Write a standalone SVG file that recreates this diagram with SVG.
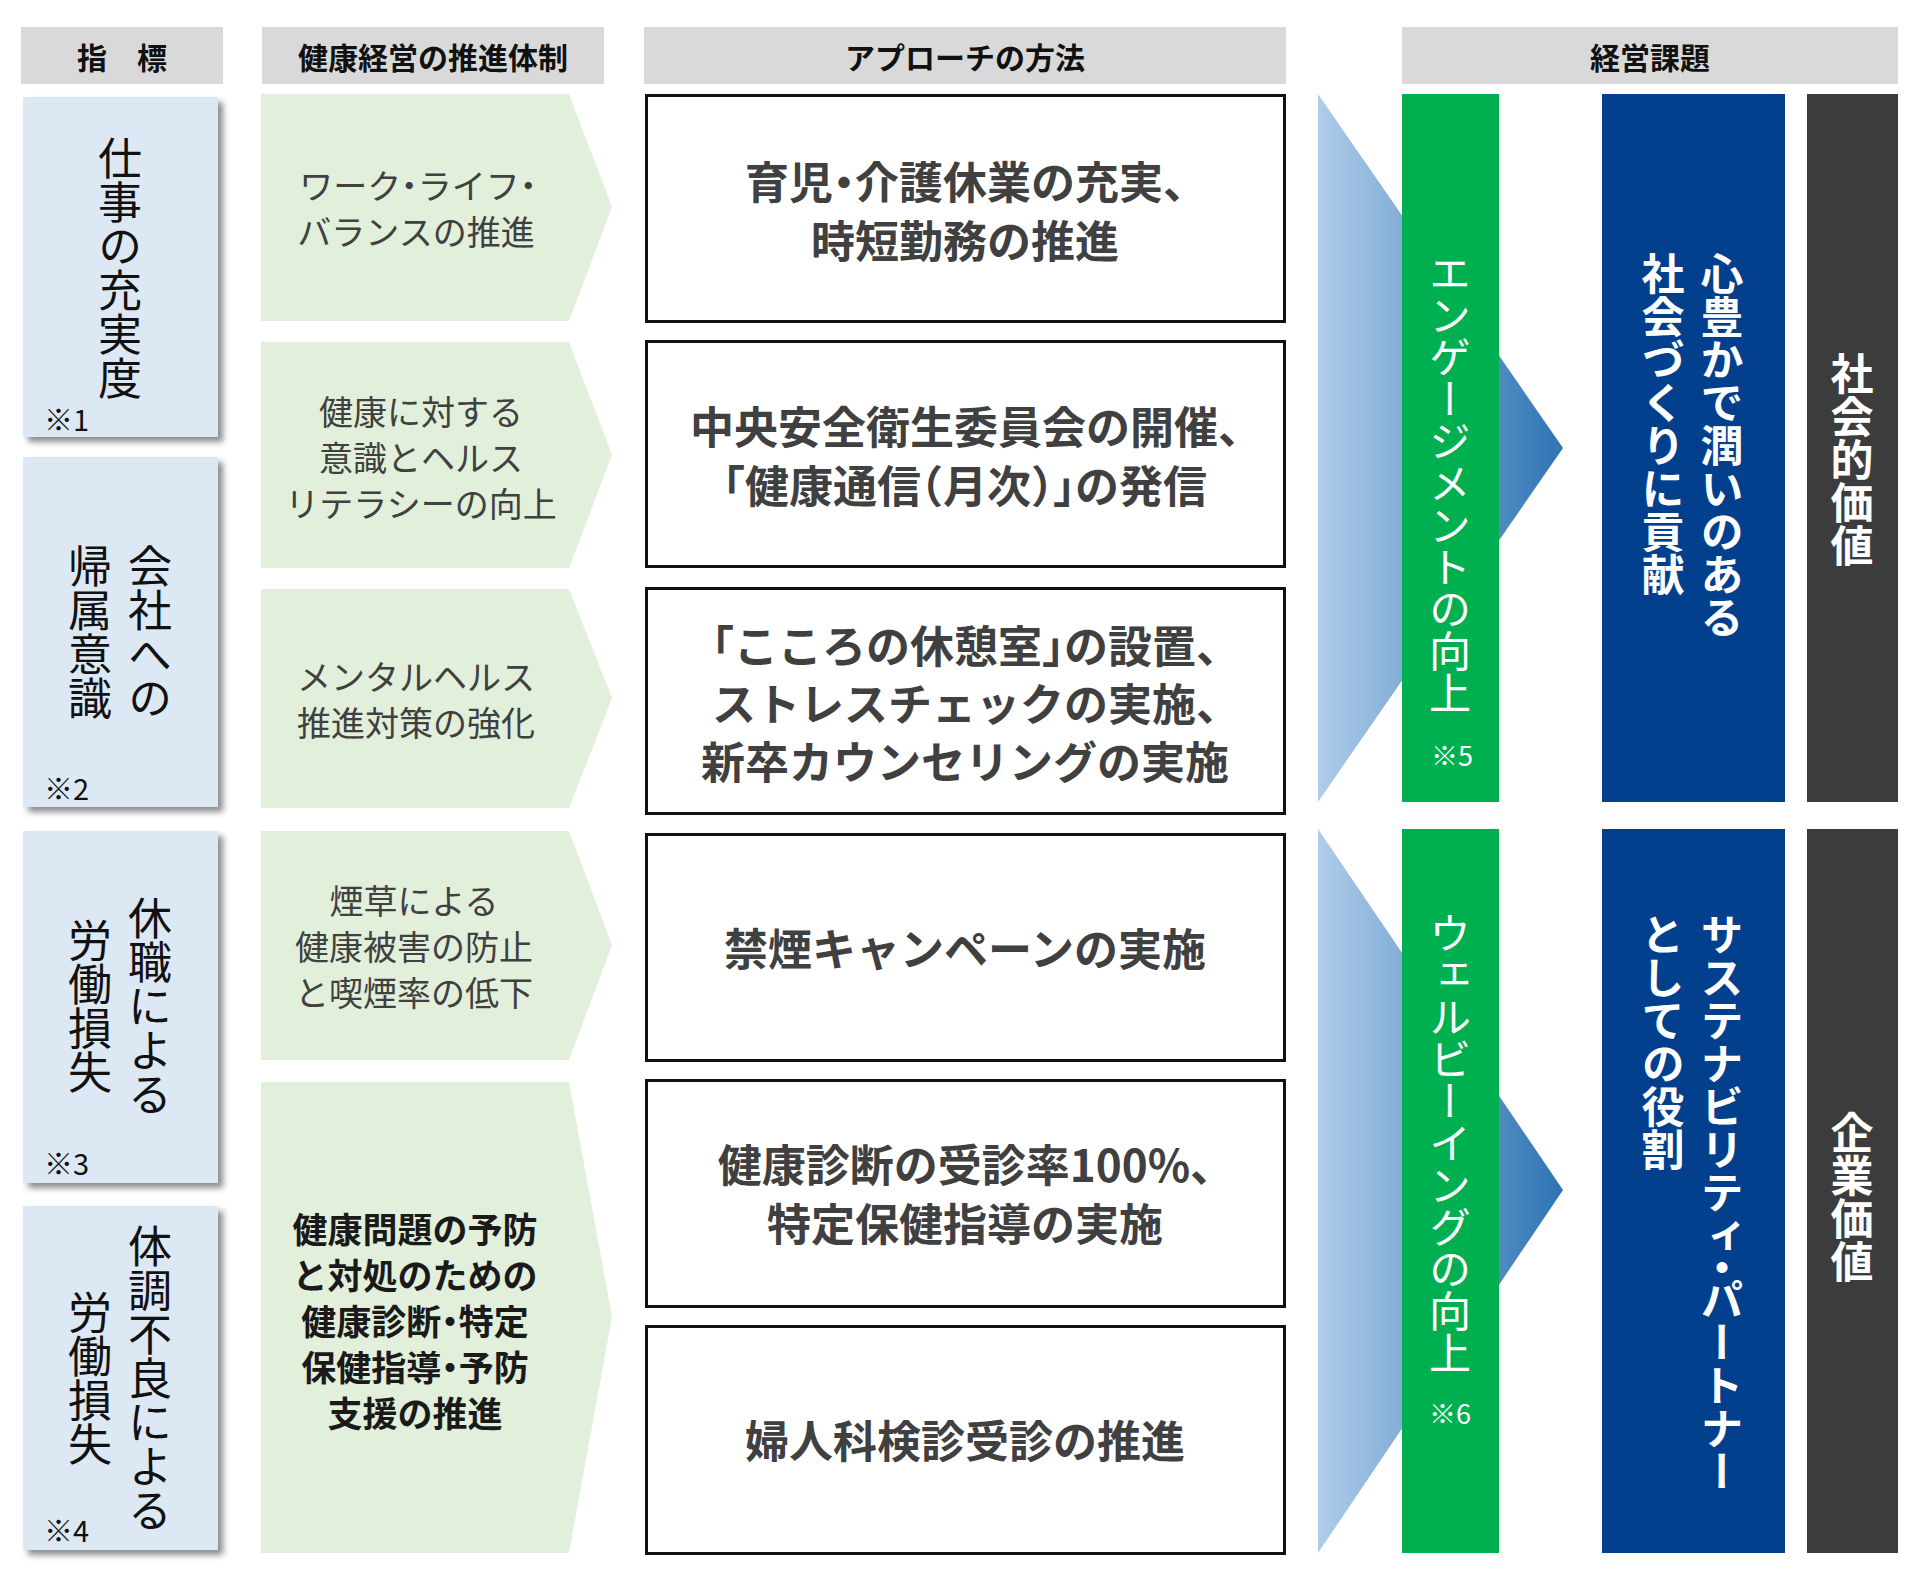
<svg xmlns="http://www.w3.org/2000/svg" width="1920" height="1596" viewBox="0 0 1920 1596">
<style>
text{font-family:"Noto Sans CJK JP","Noto Sans",sans-serif;}
.hdr{fill:#d9d9d9;}
.ht{font-size:30px;font-weight:700;fill:#111;text-anchor:middle;dominant-baseline:central;}
.ind{fill:#dde8f5;filter:url(#sh);}
.vt{writing-mode:vertical-rl;font-size:44px;fill:#111;text-anchor:middle;}
.note{font-size:29px;fill:#111;dominant-baseline:central;}
.chev{fill:#e2efda;}
.ct{font-size:34px;fill:#404040;text-anchor:middle;dominant-baseline:central;font-feature-settings:"halt" 1;}
.ctb{font-size:35px;font-weight:700;fill:#1a1a1a;text-anchor:middle;dominant-baseline:central;font-feature-settings:"halt" 1;}
.box{fill:#fff;stroke:#111;stroke-width:3;}
.bt{font-size:44px;font-weight:700;fill:#404040;text-anchor:middle;dominant-baseline:central;font-feature-settings:"halt" 1;}
.tri{fill:url(#g);}
.grn{fill:#00b050;}
.blu{fill:#02408e;}
.gry{fill:#3c3c3c;}
.wv{writing-mode:vertical-rl;font-size:42px;fill:#fff;}
.wvb{writing-mode:vertical-rl;font-size:43px;font-weight:700;fill:#fff;}
.vhal{font-feature-settings:"vhal" 1;}
.wn{font-size:27px;fill:#fff;text-anchor:middle;dominant-baseline:central;}
</style>
<defs>
<filter id="sh" x="-10%" y="-10%" width="130%" height="130%">
<feDropShadow dx="5" dy="5" stdDeviation="3" flood-color="#000" flood-opacity="0.45"/>
</filter>
<linearGradient id="g" gradientUnits="userSpaceOnUse" x1="1318" y1="0" x2="1563" y2="0">
<stop offset="0" stop-color="#afcdea"/>
<stop offset="1" stop-color="#2e73b4"/>
</linearGradient>
</defs>
<rect width="1920" height="1596" fill="#fff"/>

<g id="headers">
<rect class="hdr" x="21" y="27" width="202" height="57"/>
<text class="ht" x="122" y="56">指　標</text>
<rect class="hdr" x="262" y="27" width="342" height="57"/>
<text class="ht" x="433" y="56">健康経営の推進体制</text>
<rect class="hdr" x="644" y="27" width="642" height="57"/>
<text class="ht" x="965" y="56">アプローチの方法</text>
<rect class="hdr" x="1402" y="27" width="496" height="57"/>
<text class="ht" x="1650" y="56">経営課題</text>
</g>

<g id="connectors">
<polygon class="tri" points="1318,94 1563,448 1318,802"/>
<polygon class="tri" points="1318,829 1563,1190 1318,1553"/>
</g>

<g id="ind1">
<rect class="ind" x="23" y="97" width="195" height="340"/>
<text class="vt" x="120" y="268">仕事の充実度</text>
<text class="note" x="44" y="418">※1</text>
</g>
<g id="ind2">
<rect class="ind" x="23" y="457" width="195" height="350"/>
<text class="vt" x="150" y="632">会社への</text>
<text class="vt" x="90" y="632">帰属意識</text>
<text class="note" x="44" y="787">※2</text>
</g>
<g id="ind3">
<rect class="ind" x="23" y="831" width="195" height="352"/>
<text class="vt" x="150" y="1006">休職による</text>
<text class="vt" x="90" y="1006">労働損失</text>
<text class="note" x="44" y="1162">※3</text>
</g>
<g id="ind4">
<rect class="ind" x="23" y="1206" width="195" height="344"/>
<text class="vt" x="150" y="1378">体調不良による</text>
<text class="vt" x="90" y="1378">労働損失</text>
<text class="note" x="44" y="1529">※4</text>
</g>

<g id="sys1">
<polygon class="chev" points="261,94 569,94 612,207 569,321 261,321"/>
<text class="ct" x="418" y="184">ワーク・ライフ・</text>
<text class="ct" x="416" y="230">バランスの推進</text>
</g>
<g id="sys2">
<polygon class="chev" points="261,342 569,342 612,455 569,568 261,568"/>
<text class="ct" x="421" y="410">健康に対する</text>
<text class="ct" x="421" y="456">意識とヘルス</text>
<text class="ct" x="421" y="502">リテラシーの向上</text>
</g>
<g id="sys3">
<polygon class="chev" points="261,589 569,589 612,698 569,808 261,808"/>
<text class="ct" x="416" y="675">メンタルヘルス</text>
<text class="ct" x="416" y="721">推進対策の強化</text>
</g>
<g id="sys4">
<polygon class="chev" points="261,831 569,831 612,945 569,1060 261,1060"/>
<text class="ct" x="414" y="899">煙草による</text>
<text class="ct" x="414" y="945">健康被害の防止</text>
<text class="ct" x="414" y="991">と喫煙率の低下</text>
</g>
<g id="sys5">
<polygon class="chev" points="261,1082 569,1082 612,1317 569,1553 261,1553"/>
<text class="ctb" x="415" y="1227">健康問題の予防</text>
<text class="ctb" x="415" y="1273">と対処のための</text>
<text class="ctb" x="415" y="1319">健康診断・特定</text>
<text class="ctb" x="415" y="1365">保健指導・予防</text>
<text class="ctb" x="415" y="1411">支援の推進</text>
</g>

<g id="app1">
<rect class="box" x="646.5" y="95.5" width="638" height="226"/>
<text class="bt" x="965" y="180">育児・介護休業の充実、</text>
<text class="bt" x="965" y="239">時短勤務の推進</text>
</g>
<g id="app2">
<rect class="box" x="646.5" y="341.5" width="638" height="225"/>
<text class="bt" x="965" y="425">中央安全衛生委員会の開催、</text>
<text class="bt" x="965" y="484">「健康通信（月次）」の発信</text>
</g>
<g id="app3">
<rect class="box" x="646.5" y="588.5" width="638" height="225"/>
<text class="bt" x="965" y="644">「こころの休憩室」の設置、</text>
<text class="bt" x="965" y="702">ストレスチェックの実施、</text>
<text class="bt" x="965" y="760">新卒カウンセリングの実施</text>
</g>
<g id="app4">
<rect class="box" x="646.5" y="834.5" width="638" height="226"/>
<text class="bt" x="965" y="947">禁煙キャンペーンの実施</text>
</g>
<g id="app5">
<rect class="box" x="646.5" y="1080.5" width="638" height="226"/>
<text class="bt" x="965" y="1163">健康診断の受診率100%、</text>
<text class="bt" x="965" y="1222">特定保健指導の実施</text>
</g>
<g id="app6">
<rect class="box" x="646.5" y="1326.5" width="638" height="227"/>
<text class="bt" x="965" y="1439">婦人科検診受診の推進</text>
</g>

<g id="eng">
<rect class="grn" x="1402" y="94" width="97" height="708"/>
<text class="wv" x="1450" y="252">エンゲージメントの向上</text>
<text class="wn" x="1452" y="754">※5</text>
</g>
<g id="well">
<rect class="grn" x="1402" y="829" width="97" height="724"/>
<text class="wv" x="1450" y="912">ウェルビーイングの向上</text>
<text class="wn" x="1450" y="1412">※6</text>
</g>

<g id="issue1">
<rect class="blu" x="1602" y="94" width="183" height="708"/>
<text class="wvb" x="1722" y="252">心豊かで潤いのある</text>
<text class="wvb" x="1663" y="252">社会づくりに貢献</text>
</g>
<g id="issue2">
<rect class="blu" x="1602" y="829" width="183" height="724"/>
<text class="wvb vhal" x="1722" y="913">サステナビリティ・パートナー</text>
<text class="wvb" x="1663" y="913">としての役割</text>
</g>

<g id="val1">
<rect class="gry" x="1807" y="94" width="91" height="708"/>
<text class="wvb" x="1852" y="460" text-anchor="middle">社会的価値</text>
</g>
<g id="val2">
<rect class="gry" x="1807" y="829" width="91" height="724"/>
<text class="wvb" x="1852" y="1197" text-anchor="middle">企業価値</text>
</g>
</svg>
